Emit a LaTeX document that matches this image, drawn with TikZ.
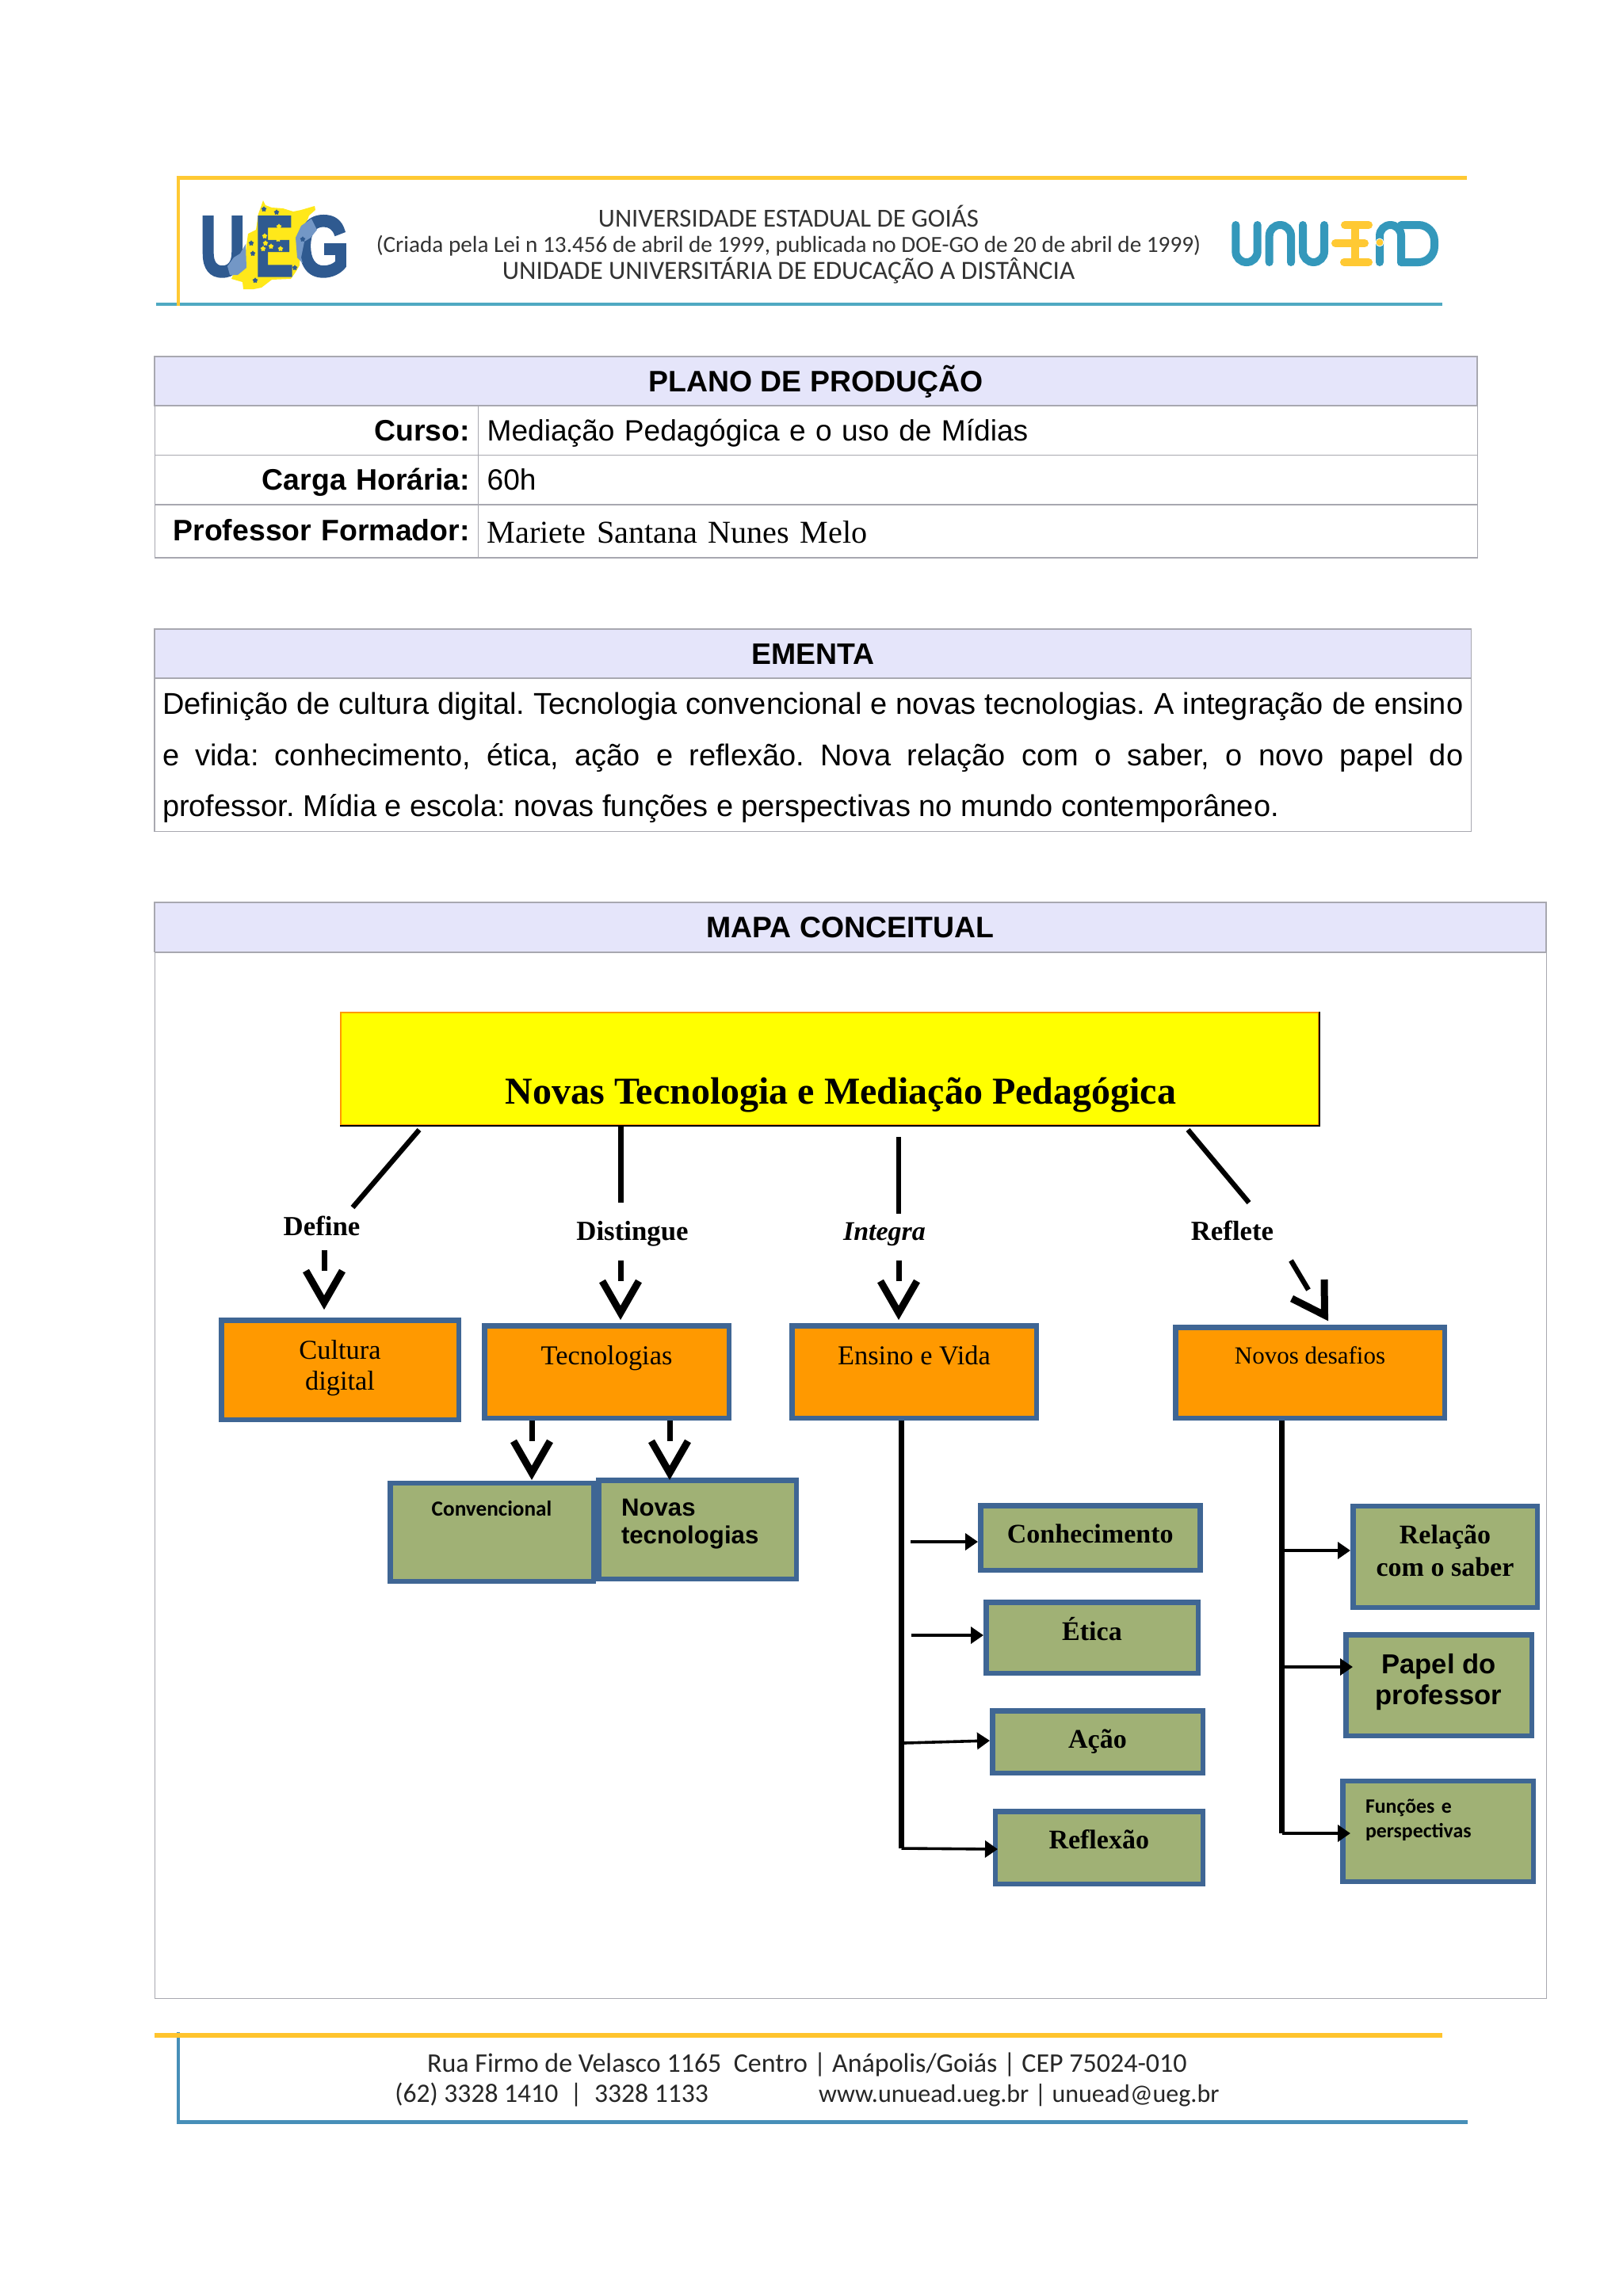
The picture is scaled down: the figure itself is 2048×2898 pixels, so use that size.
\documentclass[tikz,border=0pt]{standalone}
\usepackage{fontspec}
\usetikzlibrary{arrows.meta,shapes.geometric}

\setmainfont{Liberation Sans}
\newfontfamily\serifface{Liberation Serif}
\newfontfamily\gillface{Carlito}
\newfontfamily\logoface[BoldFeatures={FakeBold=3}]{Liberation Sans}

\definecolor{headfill}{HTML}{E5E5FA}
\definecolor{tablegray}{HTML}{A8A8B0}
\definecolor{ruleyellow}{HTML}{FFC933}
\definecolor{ruleteal}{HTML}{4FA9C2}
\definecolor{footblue}{HTML}{478FB8}
\definecolor{boxblue}{HTML}{3F6694}
\definecolor{boxorange}{HTML}{FF9900}
\definecolor{boxgreen}{HTML}{A0B175}
\definecolor{titleyellow}{HTML}{FFFF00}
\definecolor{logoblue}{HTML}{2F5A90}
\definecolor{logolight}{HTML}{7397C6}
\definecolor{logoyellow}{HTML}{FFE81A}
\definecolor{eadteal}{HTML}{3498BB}

\tikzset{
  cell/.style={draw=tablegray, line width=.7pt, inner ysep=0pt, inner xsep=5.5pt, anchor=west, font=\fontsize{18.55}{23}\selectfont},
  headcell/.style={cell, fill=headfill, anchor=center, font=\fontsize{18.7}{23}\selectfont\bfseries, text height=15pt, text depth=2pt},
  mapbox/.style={draw=boxblue, line width=3.25pt, inner sep=0pt, align=center},
  orangebox/.style={mapbox, fill=boxorange, font=\serifface\fontsize{17.2}{19.5}\selectfont},
  greenbox/.style={mapbox, fill=boxgreen, font=\serifface\fontsize{17}{20.5}\selectfont\bfseries},
  boxsize/.style 2 args={minimum width={(#1-6.5)*.5pt}, minimum height={(#2-6.5)*.5pt}},
  rellabel/.style={anchor=base, inner sep=0pt, font=\serifface\fontsize{17.4}{19}\selectfont\bfseries},
  link/.style={line width=3.2pt},
  vhead/.style={line width=4.5pt, miter limit=10},
  trunk/.style={line width=3.4pt},
  tiparrow/.style={line width=1.8pt, -{Triangle[length=8pt,width=10.5pt]}},
  headtext/.style={anchor=base, inner sep=0pt, text=black!80, font=\gillface\fontsize{16.4}{19}\selectfont},
  foottext/.style={anchor=base, inner sep=0pt, text=black!85, font=\gillface\fontsize{16.8}{21}\selectfont},
  logoletter/.style={anchor=base, inner sep=0pt, text=logoblue, font=\logoface\fontsize{54}{54}\selectfont\bfseries},
  bluestar/.style={star, star points=5, fill=logoblue, inner sep=0pt, minimum size=3.6pt},
  yellowstar/.style={star, star points=5, fill=logoyellow, inner sep=0pt, minimum size=3.6pt},
  eadstroke/.style={line width=5pt, line cap=round, draw=eadteal, rounded corners=6.8pt},
  eadbar/.style={line width=5pt, line cap=round, draw=ruleyellow}
}

\begin{document}
\frenchspacing
\begin{tikzpicture}[x=.5pt, y=-.5pt]

\path[fill=white, use as bounding box] (0,0) rectangle (2048,2898);

% Header rules
\draw[ruleteal, line width=1.8pt] (197,384) -- (1820,384);
\draw[ruleyellow, line width=2.5pt] (222.5,224) -- (1851,224);
\draw[ruleyellow, line width=2.2pt] (225,224) -- (225,386);

% UEG logo
\fill[logoyellow] (332,253) -- (335,259) -- (343,262) -- (357,263) -- (370,267) -- (380,265) -- (397,260) -- (398,265) -- (390,272)
  -- (380,300) -- (378,335) -- (372,345) -- (367,352) -- (343,353) -- (330,363) -- (320,365) -- (307,365) -- (306,356) -- (292,352)
  -- (297,340) -- (310,317) -- (313,295) -- (323,290) -- (326,270) -- cycle;
\node[logoletter, xscale=.74, transform shape] (logoU) at (281,348) {U};
\node[logoletter, xscale=.68, transform shape] (logoE) at (346,348) {E};
\node[logoletter, xscale=.78, transform shape] (logoG) at (408,348) {G};
\fill[logolight] (310,308) -- (311,338) -- (300,347) -- (290,347) -- (287,336) -- (295,325) -- (303,320) -- cycle;
\fill[logolight] (393,276) -- (400,290) -- (392,300) -- (384,305) -- (380,325) -- (382,332) -- (375,325) -- (373,300) -- (380,285) -- cycle;
\foreach \sx/\sy [count=\i] in {333/264,349/268,317/307,319/320,322/354,372/338,382/302}
  \node[bluestar] (bs\i) at (\sx,\sy) {};
\foreach \sx/\sy [count=\i] in {352/286,334/298,350/296,351/302,335/307,342/311,332/314,354/314,351/322}
  \node[yellowstar] (ys\i) at (\sx,\sy) {};

% UnuEAD logo
\draw[eadstroke] (1559.3,284) |- (1586.7,331) -- (1586.7,284);
\draw[eadstroke] (1601.7,331) |- (1629,284) -- (1629,331);
\draw[eadstroke] (1644,284) |- (1671,331) -- (1671,284);
\draw[eadbar] (1697,284) -- (1727,284);
\draw[eadbar] (1685,307) -- (1722,307);
\draw[eadbar] (1696,331) -- (1727,331);
\draw[eadbar] (1710,284) -- (1710,331);
\draw[eadstroke] (1741,331) |- (1768,284) -- (1768,331);
\draw[eadstroke, rounded corners=10pt] (1768,284) -| (1810,331) -- (1768,331);
\fill[white] (1741,306) circle[radius=2.7pt];
\fill[ruleyellow] (1741,306) circle[radius=2.2pt];

% Header text
\node[headtext] (uniname) at (995,286.5) {UNIVERSIDADE ESTADUAL DE GOIÁS};
\node[headtext, font=\gillface\fontsize{14.6}{19}\selectfont] (unilaw) at (995,318) {(Criada pela Lei n 13.456 de abril de 1999, publicada no DOE-GO de 20 de abril de 1999)};
\node[headtext, font=\gillface\fontsize{16.6}{19}\selectfont] (uniunit) at (995,352) {UNIDADE UNIVERSITÁRIA DE EDUCAÇÃO A DISTÂNCIA};

% Plano de producao
\node[headcell, minimum width=834.5pt, minimum height=31pt, text height=15.5pt, text depth=2pt] (plano) at (1029.5,481) {PLANO DE PRODUÇÃO};
\node[cell, text width=193pt, align=right, font=\fontsize{18.7}{23}\selectfont\bfseries, minimum height=31.25pt, text height=16pt, text depth=3pt] (cursoL) at (195,543.25) {Curso:};
\node[cell, text width=619.5pt, align=left, minimum height=31.25pt, text height=16pt, text depth=3pt] (cursoV) at (603,543.25) {Mediação Pedagógica e o uso de Mídias};
\node[cell, text width=193pt, align=right, font=\fontsize{18.7}{23}\selectfont\bfseries, minimum height=31.25pt, text height=16pt, text depth=3pt] (cargaL) at (195,605.75) {Carga Horária:};
\node[cell, text width=619.5pt, align=left, minimum height=31.25pt, text height=16pt, text depth=3pt] (cargaV) at (603,605.75) {60h};
\node[cell, text width=193pt, align=right, font=\fontsize{18.7}{23}\selectfont\bfseries, minimum height=33.5pt, text height=15pt, text depth=3.5pt] (profL) at (195,670.5) {Professor Formador:};
\node[cell, text width=619.5pt, align=left, font=\serifface\fontsize{20.1}{25}\selectfont, minimum height=33.5pt, text height=15.5pt, text depth=1pt] (profV) at (603,670.5) {Mariete Santana Nunes Melo};

% Ementa
\node[headcell, minimum width=830.75pt, minimum height=31pt] (ementa) at (1025.75,825) {EMENTA};
\node[cell, anchor=center, inner xsep=5pt, text width=820.75pt, align=justify, minimum height=96.6pt, text height=15pt, text depth=65.9pt, font=\fontsize{19}{32.25}\selectfont] (ementaV) at (1025.75,952.6) {Definição de cultura digital. Tecnologia convencional e novas tecnologias. A integração de ensino\linebreak e vida: conhecimento, ética, ação e reflexão. Nova relação com o saber, o novo papel do\linebreak professor. Mídia e escola: novas funções e perspectivas no mundo contemporâneo.};

% Mapa conceitual
\node[headcell, minimum width=878pt, minimum height=31.3pt] (mapa) at (1073,1170.35) {MAPA CONCEITUAL};
\node[cell, anchor=north west, minimum width=878pt, minimum height=660pt] (mapabody) at (195,1201.7) {};

% Title
\node[draw=boxorange, fill=titleyellow, line width=.8pt, inner sep=0pt, minimum width=617pt, minimum height=71pt, font=\serifface\fontsize{24}{28}\selectfont\bfseries, text height=50pt, text depth=6pt] (title) at (1047,1349) {\hspace{14pt}Novas Tecnologia e Mediação Pedagógica};
\draw[line width=1.2pt] (title.south west) -- (title.south east) -- (title.north east);

% Relation labels
\node[rellabel] (defineL) at (406,1559) {Define};
\node[rellabel] (distingueL) at (798,1565) {Distingue};
\node[rellabel, font=\serifface\fontsize{17}{19}\selectfont\bfseries\itshape] (integraL) at (1116,1565) {Integra};
\node[rellabel] (refleteL) at (1555,1565) {Reflete};

% Orange boxes
\node[orangebox, boxsize={306}{132}, text height=30pt, text depth=5pt] (cultura) at (429,1729) {Cultura\\digital};
\node[orangebox, boxsize={315}{123}, text height=12pt, text depth=21.5pt] (tecnologias) at (765.5,1731.5) {Tecnologias};
\node[orangebox, boxsize={315}{123}, text height=12pt, text depth=21.5pt] (ensino) at (1153.5,1731.5) {Ensino e Vida};
\node[orangebox, boxsize={346}{121}, font=\serifface\fontsize{15.5}{19}\selectfont, text height=11pt, text depth=22.5pt] (desafios) at (1653,1732.5) {Novos desafios};

% Green boxes
\node[greenbox, boxsize={263}{130.5}, font=\gillface\fontsize{13.6}{16}\selectfont\bfseries, text height=9.5pt, text depth=29.3pt] (convencional) at (620.5,1933.75) {Convencional};
\node[greenbox, boxsize={256}{131}, text width=96pt, align=left, font=\fontsize{15.6}{17.7}\selectfont\bfseries, text height=11pt, text depth=28pt] (novastec) at (880,1930.5) {Novas\\tecnologias};
\node[greenbox, boxsize={283.5}{88}, text height=12pt, text depth=6pt] (conhecimento) at (1375.75,1941) {Conhecimento};
\node[greenbox, boxsize={274}{96}, text height=13pt, text depth=10pt] (etica) at (1378,2067) {Ética};
\node[greenbox, boxsize={272}{85}, text height=13pt, text depth=5pt] (acao) at (1385,2198.5) {Ação};
\node[greenbox, boxsize={268.5}{98}, text height=13pt, text depth=12pt] (reflexao) at (1386.75,2332) {Reflexão};
\node[greenbox, boxsize={239}{134.5}, text height=30pt, text depth=5.75pt] (relacao) at (1823.5,1964.75) {Relação\\com o saber};
\node[greenbox, boxsize={241}{134}, font=\fontsize{17.3}{19.5}\selectfont\bfseries, text height=30pt, text depth=6pt] (papel) at (1815.5,2127) {Papel do\\professor};
\node[greenbox, boxsize={247}{133.5}, text width=91.5pt, align=left, font=\gillface\fontsize{12.9}{15.8}\selectfont\bfseries, text height=9pt, text depth=32.2pt] (funcoes) at (1814.5,2311.25) {Funções e\\perspectivas};

% Links from the title to the labels
\coordinate (defineA) at (529,1426);
\coordinate (defineB) at (445,1524);
\coordinate (distingueB) at (783,1518);
\coordinate (integraA) at (1134,1435);
\coordinate (integraB) at (1134,1532);
\coordinate (refleteA) at (1499,1426);
\coordinate (refleteB) at (1576,1518);
\draw[link] (defineA) -- (defineB);
\draw[link, line width=3.5pt] (title.south -| distingueB) -- (distingueB);
\draw[link] (integraA) -- (integraB);
\draw[link] (refleteA) -- (refleteB);

% Open arrows
\foreach \nm/\px/\py in {defineC/409/1578, distingueC/783/1591, integraC/1134/1591, convC/671/1793, novasC/845/1793} {
  \coordinate (\nm) at (\px,\py);
  \draw[link, line width=3.5pt] (\nm) -- ++(0,26);
  \draw[vhead] (\px-23,\py+26) -- (\px,\py+66) -- (\px+23,\py+26);
}
\coordinate (refleteC) at (1629,1591);
\coordinate (refleteD) at (1651,1628);
\draw[link] (refleteC) -- (refleteD);
\draw[vhead] (1671,1615) -- (1671.5,1660) -- (1630,1639);

% Trunks and small arrows
\coordinate (ensinoT) at (1137.5,1793);
\coordinate (ensinoB) at (1137.5,2333);
\coordinate (desafioT) at (1617.5,1793);
\coordinate (desafioB) at (1617.5,2314);
\draw[trunk] (ensinoT) -- (ensinoB);
\draw[trunk] (desafioT) -- (desafioB);

\coordinate (c1) at (1149,1946);
\coordinate (c2) at (1150,2064);
\coordinate (c3) at (1141,2200);
\coordinate (c4) at (1249,2197);
\coordinate (c5) at (1259,2334);
\draw[tiparrow] (c1) -- (c1 -| conhecimento.west);
\draw[tiparrow] (c2) -- (c2 -| etica.west);
\draw[tiparrow] (c3) -- (c4);
\draw[tiparrow] (ensinoB) -- (c5);
\coordinate (d1) at (1617.5,1957);
\coordinate (d2) at (1617.5,2104);
\coordinate (d3) at (1707,2104);
\coordinate (d4) at (1704,2314);
\draw[tiparrow] (d1) -- (d1 -| relacao.west);
\draw[tiparrow] (d2) -- (d3);
\draw[tiparrow] (desafioB) -- (d4);

% Footer
\draw[footblue, line width=2pt] (224.5,2565) -- (224.5,2680);
\draw[ruleyellow!90!boxorange, line width=2.8pt] (195,2569) -- (1820,2569);
\draw[footblue, line width=2.5pt] (223,2678) -- (1852,2678);
\node[foottext, font=\gillface\fontsize{17}{21}\selectfont] (footA) at (1018.5,2615) {Rua Firmo de Velasco 1165\ \ Centro | Anápolis/Goiás | CEP 75024-010};
\node[foottext, anchor=base west] (footB) at (498,2653) {(62) 3328 1410\ \ |\ \ 3328 1133};
\node[foottext, anchor=base east, font=\gillface\fontsize{16}{21}\selectfont] (footC) at (1539,2653) {www.unuead.ueg.br | unuead@ueg.br};

\end{tikzpicture}
\end{document}
